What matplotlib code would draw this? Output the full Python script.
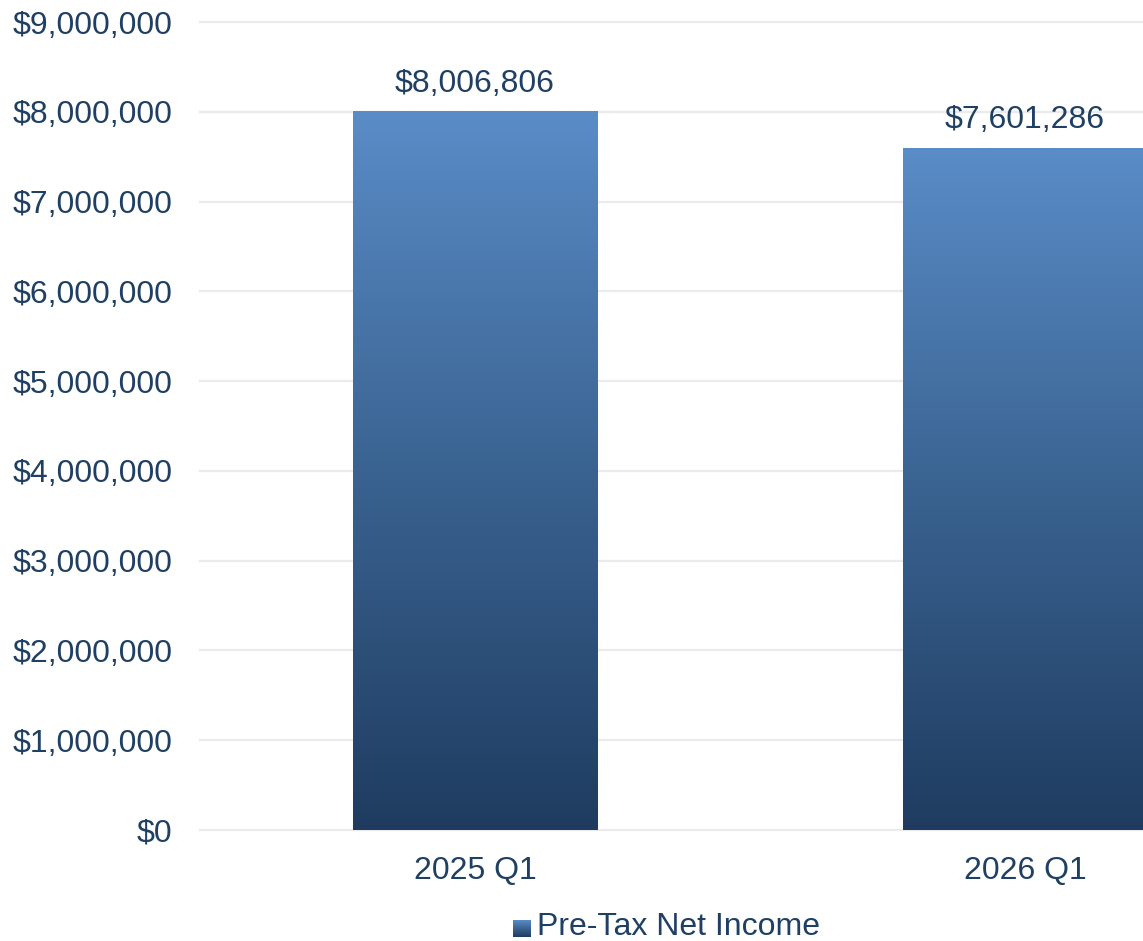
import numpy as np
import matplotlib.pyplot as plt
from matplotlib.colors import LinearSegmentedColormap

plt.rcParams['font.family'] = ['Liberation Sans', 'DejaVu Sans']

# data
categories = ['2025 Q1', '2026 Q1']
income = [8006806, 7601286]
series_name = 'Pre-Tax Net Income'

text_col = '#1F3F63'
grid_col = '#EBEBEB'
grad = LinearSegmentedColormap.from_list('bar_grad', ['#1F3C60', '#3A6391', '#5A8CC7'])
fs = 23

fig = plt.figure(figsize=(11.43, 9.41), dpi=100)
# axes run past the right edge, like the cropped original
ax = fig.add_axes([200 / 1143, 111 / 941, 1100 / 1143, 808 / 941])

x = np.arange(len(categories))
width = 0.445
bars = ax.bar(x, income, width=width, color='none', zorder=3)

# gradient fill, dark at the bottom and light at the top of each bar
g = np.linspace(0, 1, 256).reshape(-1, 1)
for b in bars:
    x0, w, h = b.get_x(), b.get_width(), b.get_height()
    im = ax.imshow(g, cmap=grad, origin='lower', aspect='auto',
                   extent=[x0, x0 + w, 0, h], zorder=3)
    im.set_clip_path(b)

for xi, v in zip(x, income):
    ax.annotate(f'${v:,.0f}', (xi, v), xytext=(0, 9), textcoords='offset points',
                ha='center', va='bottom', fontsize=fs, color=text_col)

ax.set_xlim(-0.5, 1.5)
ax.set_ylim(0, 9000000)
ax.set_yticks(np.arange(0, 9000001, 1000000))
ax.yaxis.set_major_formatter(plt.FuncFormatter(lambda v, p: f'${v:,.0f}'))
ax.set_xticks(x)
ax.set_xticklabels(categories)
ax.tick_params(axis='y', length=0, pad=20, labelsize=fs, labelcolor=text_col)
ax.tick_params(axis='x', length=0, pad=19, labelsize=fs, labelcolor=text_col)
for gl in ax.get_yticks():
    ax.axhline(gl, color=grid_col, linewidth=1.6, zorder=0, clip_on=False)
for s in ax.spines.values():
    s.set_visible(False)

# legend: gradient swatch + label
lx, ly = 513 / 1143, (941 - 937) / 941
sw = fig.add_axes([lx, ly, 18 / 1143, 17 / 941])
sw.imshow(g, cmap=grad, origin='lower', aspect='auto')
sw.axis('off')
fig.text(537 / 1143, (941 - 927) / 941, series_name, ha='left', va='center',
         fontsize=fs, color=text_col)

fig.savefig('out.png', dpi=100)
